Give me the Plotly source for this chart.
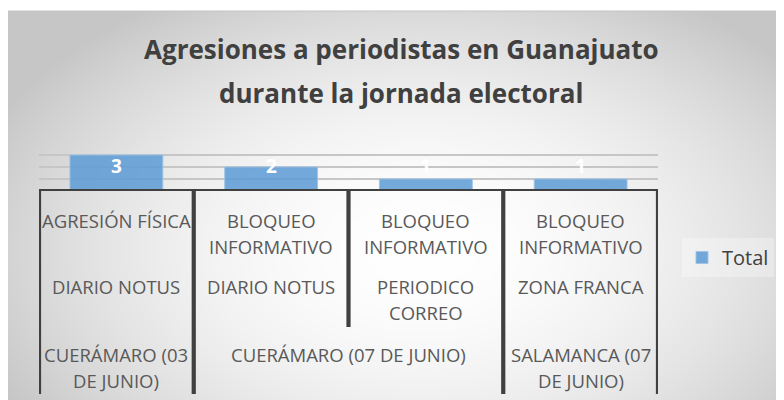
import base64, struct, zlib
import numpy as np
import plotly.graph_objects as go

# ---------------- data ----------------
tipo = ["AGRESIÓN FÍSICA", "BLOQUEO<br>INFORMATIVO", "BLOQUEO<br>INFORMATIVO", "BLOQUEO<br>INFORMATIVO"]
medio = ["DIARIO NOTUS", "DIARIO NOTUS", "PERIODICO<br>CORREO", "ZONA FRANCA"]
lugar = ["CUERÁMARO (03<br>DE JUNIO)", "CUERÁMARO (07 DE JUNIO)", "CUERÁMARO (07 DE JUNIO)", "SALAMANCA (07<br>DE JUNIO)"]
total = [3, 2, 1, 1]
series_name = "Total"
title_lines = ["Agresiones a periodistas en Guanajuato", "durante la jornada electoral"]

# ---------------- geometry (screen pixels; page has an 8px body margin) ----------------
OFF = 8
W, H = 784, 400
PL, PR, PT, PB = 39 - OFF, 658 - OFF, 143 - OFF, 191 - OFF
pw, ph = PR - PL, PB - PT

def px_y(y):
    return (PB - (y - OFF)) / ph

def px_x(x):
    return ((x - OFF) - PL) / pw

# background radial gradient image (screen coords of chart area start at 8,11)
CX0, CY0 = 8, 11
gw, gh = W - (CX0 - OFF), H - (CY0 - OFF)
yy, xx = np.mgrid[0:gh, 0:gw]
cx, cy = 420 - CX0, 250 - CY0
r = np.sqrt(((xx - cx) / 480.0) ** 2 + ((yy - cy) / 300.0) ** 2)
val = 255 - 58 * r ** 1.9
val = np.clip(val, 198, 255).astype(np.uint8)
raw = b"".join(b"\x00" + val[i].tobytes() for i in range(gh))
def chunk(t, d):
    c = struct.pack(">I", len(d)) + t + d
    return c + struct.pack(">I", zlib.crc32(t + d) & 0xffffffff)
png = b"\x89PNG\r\n\x1a\n" + chunk(b"IHDR", struct.pack(">IIBBBBB", gw, gh, 8, 0, 0, 0, 0)) \
    + chunk(b"IDAT", zlib.compress(raw, 9)) + chunk(b"IEND", b"")
bg_src = "data:image/png;base64," + base64.b64encode(png).decode()

xs = list(range(len(total)))
FONT = "Open Sans"
LBL = "#595959"

fig = go.Figure()
fig.add_trace(go.Bar(
    x=xs, y=total, name=series_name, width=0.6,
    marker=dict(color="rgba(91,155,213,0.85)", line=dict(color="rgba(157,195,230,0.9)", width=1)),
    showlegend=True,
))

annotations = []
# data labels (white, bold)
for i, v in enumerate(total):
    annotations.append(dict(x=i, xref="x", y=px_y(165.5), yref="paper", text=str(v), showarrow=False,
                            font=dict(family=FONT, size=19, color="white", weight="bold"),
                            xanchor="center", yanchor="middle"))

# title
for k, t in enumerate(title_lines):
    annotations.append(dict(x=px_x(401), xref="paper", y=px_y([49, 93][k]), yref="paper", text=t,
                            showarrow=False, font=dict(family=FONT, size=26, color="#404040", weight="bold"),
                            xanchor="center", yanchor="middle"))

LS = 26
row_first = [220.5, 286.5, 354]

def add_label(text, xc, row):
    for j, line in enumerate(text.split("<br>")):
        annotations.append(dict(x=xc, xref="x", y=px_y(row_first[row] + j * LS), yref="paper", text=line,
                                showarrow=False, font=dict(family=FONT, size=18.5, color=LBL),
                                xanchor="center", yanchor="middle"))

for row, labels in enumerate([tipo, medio, lugar]):
    i = 0
    while i < len(labels):
        j = i
        while j + 1 < len(labels) and labels[j + 1] == labels[i] and row == 2:
            j += 1
        add_label(labels[i], (i + j) / 2, row)
        i = j + 1

shapes = []
DARK = "#404040"
n = len(total)
for b in range(n + 1):
    xb = b - 0.5
    if b in (0, n) or lugar[b - 1] != lugar[b]:
        yb = 394
    else:
        yb = 327
    shapes.append(dict(type="line", xref="x", yref="paper", x0=xb, x1=xb, y0=px_y(191), y1=px_y(yb),
                       line=dict(color=DARK, width=4.2)))
# category axis line
shapes.append(dict(type="line", xref="x", yref="y", x0=-0.5, x1=n - 0.5, y0=0, y1=0,
                   line=dict(color=DARK, width=4)))
# chart border top
shapes.append(dict(type="line", xref="paper", yref="paper", x0=px_x(CX0), x1=px_x(W + OFF),
                   y0=px_y(CY0), y1=px_y(CY0), line=dict(color="#c4c4c4", width=1)))

fig.update_layout(
    width=W, height=H,
    margin=dict(l=PL, r=W - PR, t=PT, b=H - PB, pad=0),
    paper_bgcolor="white", plot_bgcolor="rgba(0,0,0,0)",
    images=[dict(source=bg_src, xref="paper", yref="paper", x=px_x(CX0), y=px_y(CY0),
                 sizex=gw / pw, sizey=gh / ph, xanchor="left", yanchor="top",
                 sizing="stretch", layer="below")],
    xaxis=dict(range=[-0.5, n - 0.5], showticklabels=False, showgrid=False, zeroline=False,
               showline=False, ticks=""),
    yaxis=dict(range=[0, 4], dtick=1, showticklabels=False, showgrid=True, gridcolor="#c6c6c6",
               gridwidth=1.5, zeroline=False, showline=False, ticks=""),
    showlegend=True,
    legend=dict(x=px_x(682), y=px_y(238), xanchor="left", yanchor="top",
                bgcolor="rgba(255,255,255,0.3)", font=dict(family=FONT, size=20, color="#404040"),
                itemwidth=30),
    annotations=annotations, shapes=shapes,
    bargap=0.4,
)

fig.write_html("out.html")
